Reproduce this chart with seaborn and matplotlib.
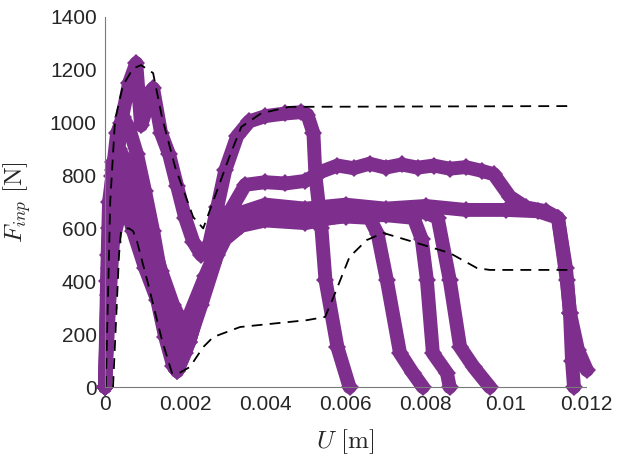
import numpy as np
import pandas as pd
import seaborn as sns
import matplotlib
matplotlib.use("Agg")
import matplotlib.pyplot as plt

# ---------------- data (U in m, F in N) ----------------
A_u = [0.0, 0.00008, 0.00015, 0.0004, 0.0006, 0.00078, 0.0009, 0.00105, 0.0012, 0.0014, 0.0016, 0.0018, 0.002, 0.0022,
       0.0024, 0.0026, 0.0028, 0.003, 0.0033, 0.0036, 0.004, 0.0045, 0.0049, 0.00505, 0.0052, 0.00525, 0.0054, 0.0055,
       0.0058, 0.0061]
A_f = [0, 350, 600, 1000, 1150, 1225, 990, 1060, 1130, 960, 880, 760, 640, 550,
       500, 540, 680, 820, 950, 1005, 1025, 1035, 1040, 1030, 960, 800, 600, 405,
       150, 0]

B_u = [0.0, 0.0001, 0.00018, 0.0003, 0.00045, 0.0006, 0.0008, 0.001, 0.0012, 0.0014, 0.0016, 0.0017, 0.0018, 0.002,
       0.0024, 0.0028, 0.0031, 0.0035, 0.004, 0.0045, 0.005, 0.0054, 0.0058, 0.0062, 0.0066, 0.007, 0.0074, 0.0078,
       0.0082, 0.0086, 0.009, 0.0094, 0.0097, 0.0101, 0.0105, 0.011, 0.0113, 0.01152, 0.0116, 0.0118, 0.01202]
B_f = [0, 450, 800, 960, 1020, 980, 880, 740, 590, 420, 230, 120, 60, 130,
       310, 500, 660, 765, 775, 770, 780, 815, 838, 828, 845, 830, 842, 830,
       838, 826, 832, 818, 805, 720, 680, 665, 640, 405, 280, 140, 64]

C_u = [0.0, 0.00005, 0.0001, 0.0002, 0.0004, 0.0006, 0.0009, 0.0012, 0.0015, 0.0017, 0.0019, 0.0022, 0.0026, 0.003,
       0.0034, 0.004, 0.005, 0.006, 0.007, 0.008, 0.009, 0.01, 0.0108, 0.0113, 0.0115, 0.0116, 0.01165, 0.0117]
C_f = [0, 400, 700, 820, 760, 700, 600, 470, 330, 260, 200, 260, 430, 580,
       660, 690, 675, 690, 675, 685, 670, 670, 665, 640, 450, 280, 100, 0]

D_u = [0.0, 0.0001, 0.0002, 0.0004, 0.0005, 0.0007, 0.001, 0.0013, 0.0015, 0.0017, 0.0018, 0.0021, 0.0025, 0.0029,
       0.0033, 0.004, 0.005, 0.006, 0.0066, 0.0068, 0.00703, 0.00736, 0.00768, 0.00793]
D_f = [0, 300, 550, 680, 700, 590, 450, 330, 190, 80, 60, 170, 380, 560,
       620, 640, 630, 645, 640, 580, 405, 128, 53, 0]

E_u = [0.0, 0.00008, 0.00015, 0.0004, 0.0006, 0.0009, 0.0012, 0.0015, 0.0017, 0.0019, 0.0021, 0.0024, 0.0027, 0.003,
       0.0034, 0.004, 0.005, 0.006, 0.007, 0.0077, 0.0079, 0.00803, 0.00818, 0.00853, 0.0086]
E_f = [0, 500, 680, 720, 690, 580, 440, 290, 170, 110, 170, 330, 470, 560,
       610, 630, 620, 650, 650, 640, 560, 405, 128, 53, 0]

F_u = [0.0, 0.0001, 0.0002, 0.00035, 0.0005, 0.0008, 0.0011, 0.0014, 0.0017, 0.0019, 0.0021, 0.0025, 0.0029, 0.0033,
       0.004, 0.005, 0.006, 0.007, 0.008, 0.0083, 0.0086, 0.00886, 0.0092, 0.0096]
F_f = [0, 600, 850, 900, 860, 720, 590, 440, 310, 250, 270, 420, 560, 640,
       660, 650, 665, 665, 660, 640, 405, 151, 75, 0]

upper_u = [0.00002, 0.0001, 0.00013, 0.00025, 0.00045, 0.0007, 0.0009, 0.0012, 0.00142, 0.00175, 0.0022, 0.00245,
           0.0028, 0.0031, 0.0034, 0.0039, 0.0046, 0.0116]
upper_f = [0, 500, 700, 1010, 1142, 1205, 1218, 1188, 1022, 832, 643, 600,
           745, 870, 984, 1036, 1060, 1063]

lower_u = [0.0002, 0.00035, 0.0004, 0.0005, 0.0006, 0.0007, 0.0008, 0.00107, 0.00142, 0.00167, 0.00182, 0.00212,
           0.00245, 0.0027, 0.00337, 0.00504, 0.00549, 0.0057, 0.0061, 0.00653, 0.00694, 0.00778, 0.0086, 0.00928,
           0.0096, 0.0116]
lower_f = [0, 500, 590, 600, 600, 590, 550, 393, 178, 53, 50, 76,
           151, 189, 227, 253, 265, 340, 492, 556, 583, 545, 507, 450,
           443, 443]

tests = {"A": (A_u, A_f), "B": (B_u, B_f), "C": (C_u, C_f),
         "D": (D_u, D_f), "E": (E_u, E_f), "F": (F_u, F_f)}

rows = []
for name, (u, f) in tests.items():
    for i, (uu, ff) in enumerate(zip(u, f)):
        rows.append({"test": name, "U": uu, "F": ff, "order": i})
df = pd.DataFrame(rows)

env = pd.concat([
    pd.DataFrame({"U": upper_u, "F": upper_f, "env": "upper"}),
    pd.DataFrame({"U": lower_u, "F": lower_f, "env": "lower"}),
])

# ---------------- style ----------------
sns.set_theme(style="white")
plt.rcParams["font.family"] = ["Liberation Sans", "DejaVu Sans"]
plt.rcParams["mathtext.fontset"] = "cm"

purple = "#7E2F8E"
axcol = "#262626"

fig = plt.figure(figsize=(6.26, 4.61), dpi=100)
ax = fig.add_axes([105 / 626, 74 / 461, 481 / 626, 370 / 461])

for name in tests:
    sub = df[df["test"] == name]
    sns.lineplot(data=sub, x="U", y="F", sort=False, estimator=None, ax=ax,
                 color=purple, linewidth=10, marker="D", markersize=9,
                 markeredgewidth=0, solid_joinstyle="round", solid_capstyle="round",
                 clip_on=False, legend=False)

for name in ["upper", "lower"]:
    sub = env[env["env"] == name]
    sns.lineplot(data=sub, x="U", y="F", sort=False, estimator=None, ax=ax,
                 color="black", linewidth=1.3, clip_on=False, legend=False,
                 linestyle=(0, (6, 4)))

ax.set_xlim(0, 0.012)
ax.set_ylim(0, 1400)
ax.set_xticks([0, 0.002, 0.004, 0.006, 0.008, 0.01, 0.012])
ax.set_xticklabels(["0", "0.002", "0.004", "0.006", "0.008", "0.01", "0.012"])
ax.set_yticks(list(range(0, 1401, 200)))

for s in ["top", "right"]:
    ax.spines[s].set_visible(False)
for s in ["left", "bottom"]:
    ax.spines[s].set_color("#7a7a7a")
    ax.spines[s].set_linewidth(0.8)

ax.tick_params(axis="both", direction="in", length=5, width=0.8, color="#7a7a7a",
               labelsize=15, labelcolor=axcol, pad=6)

ax.set_xlabel(r"$U\ [\mathrm{m}]$", fontsize=18, color=axcol)
ax.set_ylabel(r"$F_{inp}\ [\mathrm{N}]$", fontsize=18, color=axcol)
ax.xaxis.set_label_coords(0.5, -0.11)
ax.yaxis.set_label_coords(-0.15, 0.5)

fig.savefig("out.png", dpi=100)
